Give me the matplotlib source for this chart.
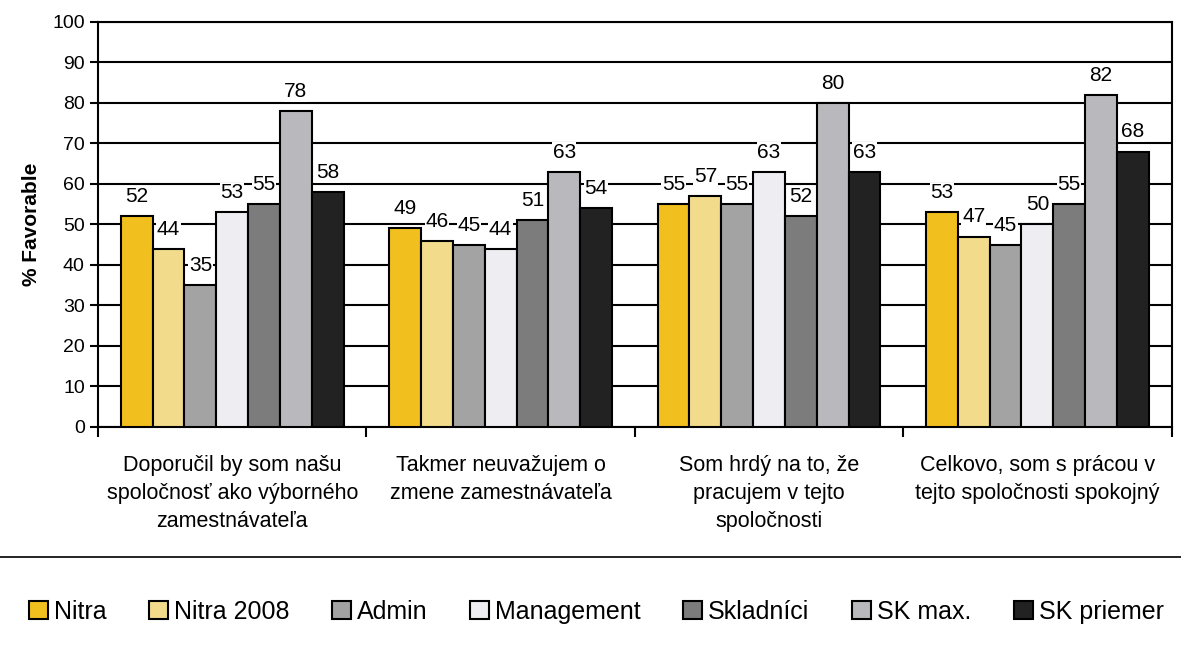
import matplotlib
matplotlib.use("Agg")
import matplotlib.pyplot as plt
import numpy as np

plt.rcParams['font.family'] = ['Liberation Sans', 'DejaVu Sans']

categories = [
    "Doporučil by som našu\nspoločnosť ako výborného\nzamestnávateľa",
    "Takmer neuvažujem o\nzmene zamestnávateľa",
    "Som hrdý na to, že\npracujem v tejto\nspoločnosti",
    "Celkovo, som s prácou v\ntejto spoločnosti spokojný",
]
series_names = ["Nitra", "Nitra 2008", "Admin", "Management", "Skladníci", "SK max.", "SK priemer"]
nitra = [52, 49, 55, 53]
nitra2008 = [44, 46, 57, 47]
admin = [35, 45, 55, 45]
management = [53, 44, 63, 50]
skladnici = [55, 51, 52, 55]
skmax = [78, 63, 80, 82]
skpriemer = [58, 54, 63, 68]
series = [nitra, nitra2008, admin, management, skladnici, skmax, skpriemer]
colors = ["#F2C01E", "#F2DC8C", "#A3A3A3", "#EEEEF2", "#7C7C7C", "#B9B9BD", "#222222"]

fig = plt.figure(figsize=(11.81, 6.65), dpi=100)
ax = fig.add_axes([0.083, 0.358, 0.909, 0.609])

n = len(series)
x = np.arange(len(categories))
bw = 0.83 / n
for i, (vals, c, name) in enumerate(zip(series, colors, series_names)):
    pos = x - 0.415 + bw * (i + 0.5)
    ax.bar(pos, vals, width=bw, color=c, edgecolor="black", linewidth=1.5, label=name, zorder=3)
    for p, v in zip(pos, vals):
        ax.text(p, v + 2.5, str(v), ha="center", va="bottom", fontsize=15, zorder=4,
                bbox=dict(facecolor="white", edgecolor="none", pad=0.5))

ax.set_ylim(0, 100)
ax.set_xlim(-0.5, len(categories) - 0.5)
ax.set_yticks(np.arange(0, 101, 10))
ax.tick_params(axis="y", labelsize=14, direction="out", length=6, width=1.5)
ax.yaxis.grid(True, color="black", linewidth=1.5, zorder=0)
ax.set_axisbelow(True)
for s in ax.spines.values():
    s.set_linewidth(1.5)
ax.set_xticks(np.arange(len(categories) + 1) - 0.5, minor=False)
ax.set_xticklabels([])
ax.tick_params(axis="x", direction="out", length=7, width=1.5)
ax.set_xticks(x, minor=True)
ax.set_xticklabels(categories, minor=True, fontsize=15.5, linespacing=1.45)
ax.tick_params(axis="x", which="minor", length=0, pad=20)
ax.set_ylabel("% Favorable", fontsize=15, fontweight="bold", labelpad=8)

fig.add_artist(plt.Line2D([0.0, 1.0], [1 - 557 / 665, 1 - 557 / 665], color="black", linewidth=1.2))

handles, labels = ax.get_legend_handles_labels()
fig.legend(handles, labels, loc="center", bbox_to_anchor=(0.505, 1 - 612 / 665), ncol=7,
           frameon=False, fontsize=18, handlelength=0.75, handleheight=0.75,
           handletextpad=0.25, columnspacing=1.7)

fig.savefig("out.png", dpi=100, facecolor="white")
